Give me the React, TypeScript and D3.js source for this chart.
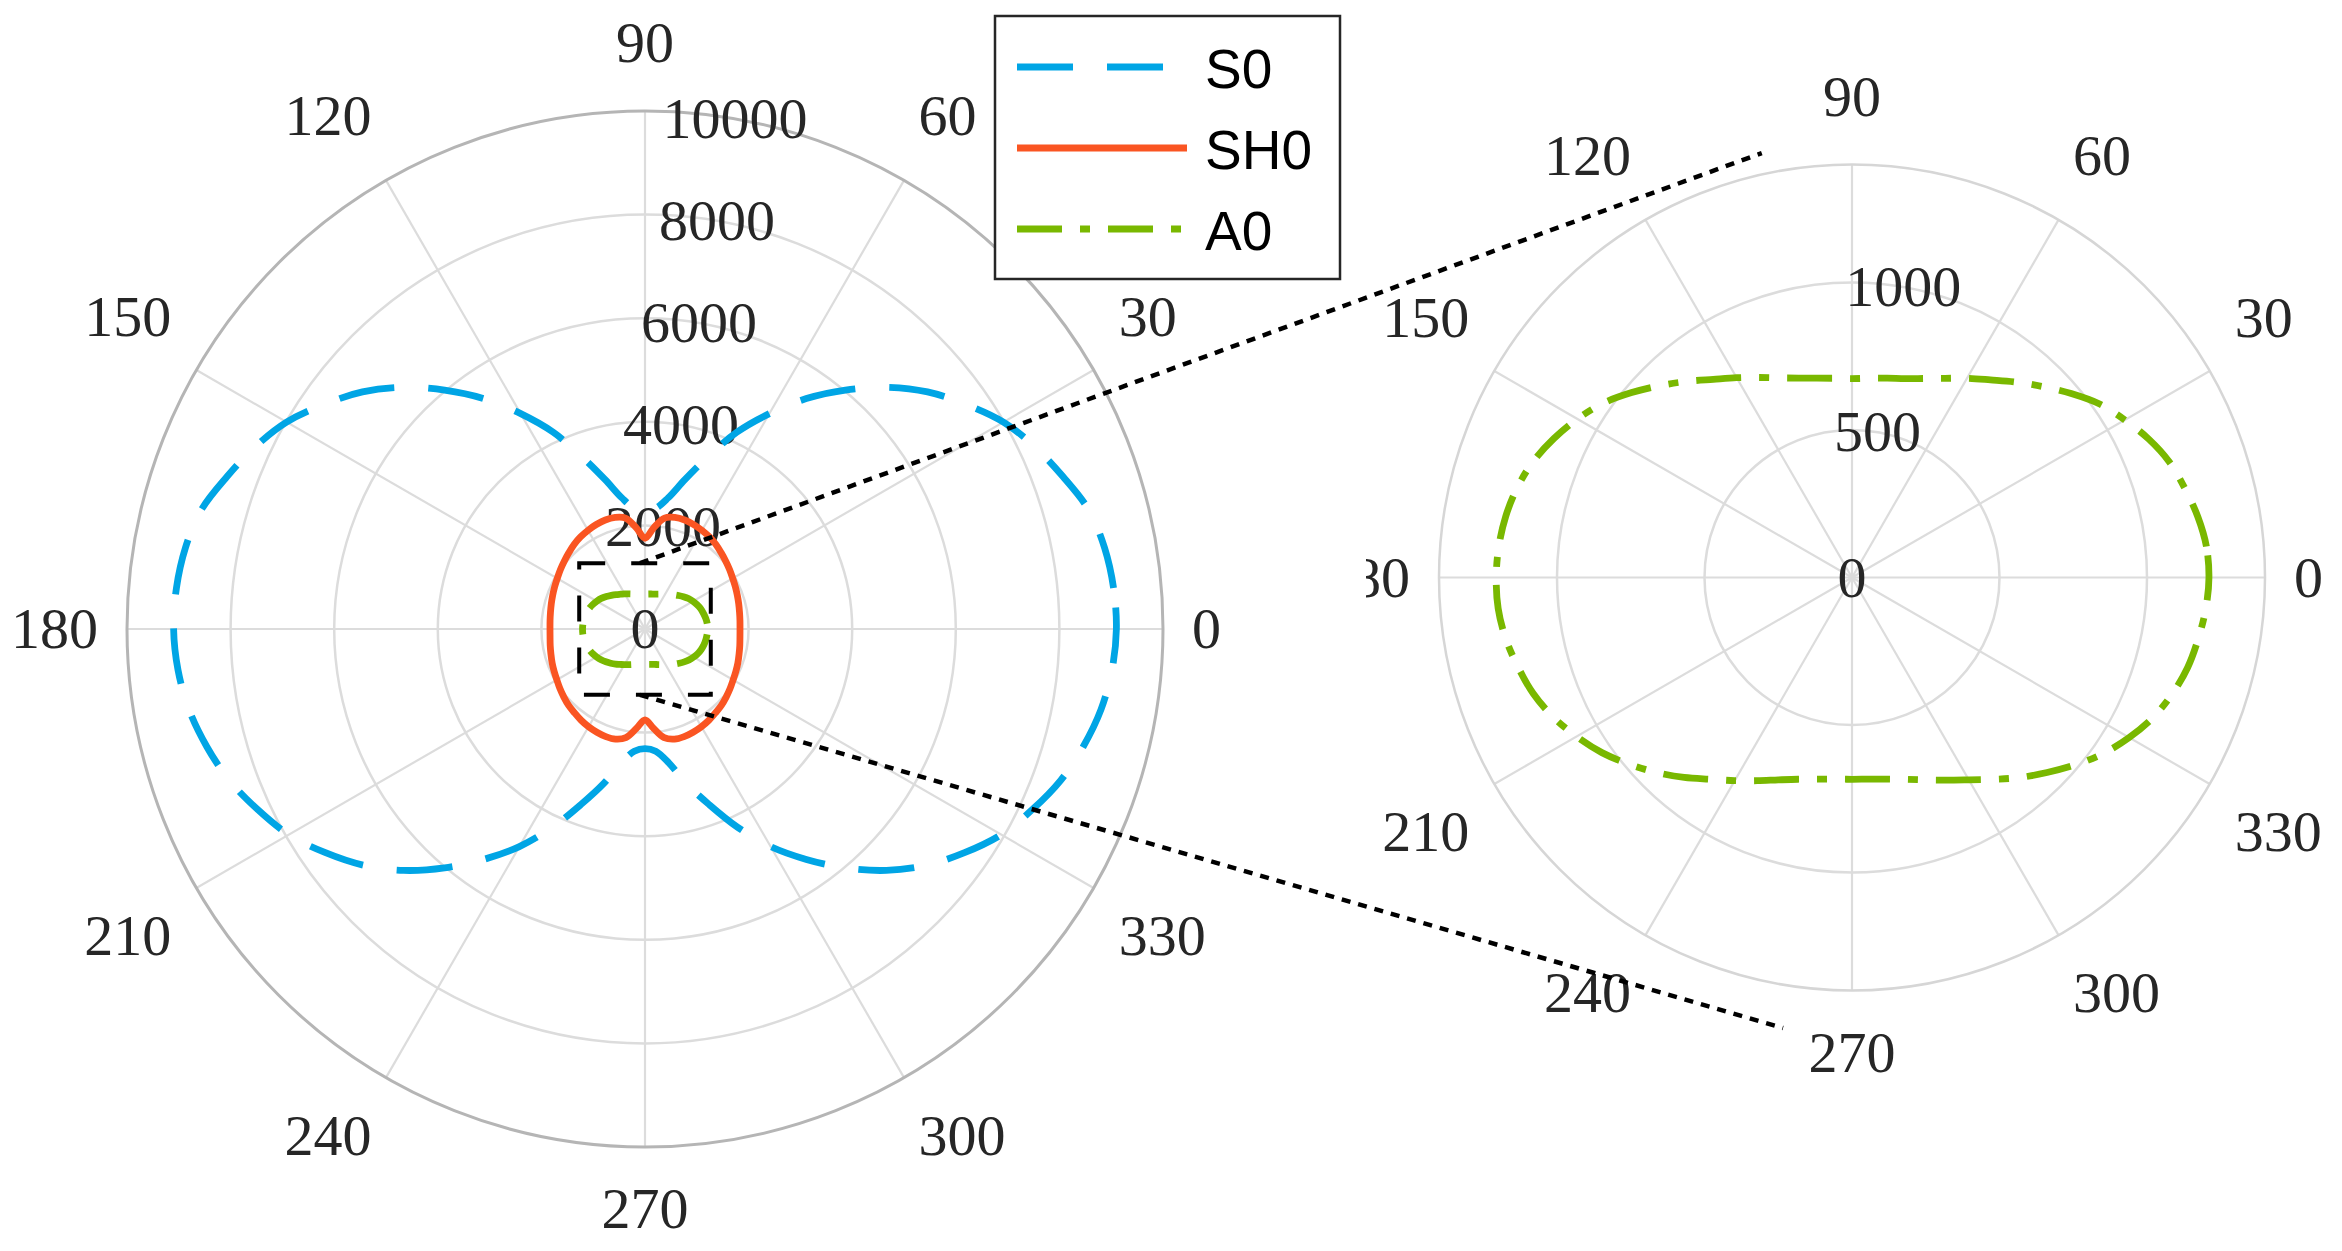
import React from 'react';
import * as d3 from 'd3';

// ---------- data ----------
const angles = [
  0, 5, 10, 15, 20, 25, 30, 35, 40, 45, 50, 55, 60, 65, 70, 75, 80, 85,
  90, 95, 100, 105, 110, 115, 120, 125, 130, 135, 140, 145, 150, 155, 160, 165, 170, 175,
  180, 185, 190, 195, 200, 205, 210, 215, 220, 225, 230, 235, 240, 245, 250, 255, 260, 265,
  270, 275, 280, 285, 290, 295, 300, 305, 310, 315, 320, 325, 330, 335, 340, 345, 350, 355,
];

const s0 = [
  9100, 9080, 9010, 8870, 8590, 8310, 7990, 7560, 7120, 6600, 6020, 5430, 4800, 4190, 3530, 2990, 2570, 2340,
  2295, 2340, 2570, 2990, 3530, 4190, 4800, 5430, 6020, 6600, 7120, 7560, 7990, 8310, 8590, 8870, 9010, 9080,
  9100, 9050, 8940, 8760, 8540, 8250, 7940, 7530, 7095, 6590, 6020, 5430, 4850, 4220, 3600, 3090, 2620, 2370,
  2310, 2370, 2620, 3090, 3600, 4220, 4850, 5430, 6020, 6590, 7095, 7530, 7940, 8250, 8540, 8760, 8940, 9050,
];

const sh0 = [
  1834, 1840, 1853, 1873, 1897, 1925, 1955, 1995, 2035, 2080, 2130, 2170, 2200, 2225, 2240, 2230, 2175, 1965,
  1752, 1965, 2175, 2230, 2240, 2225, 2200, 2170, 2130, 2080, 2035, 1995, 1955, 1925, 1897, 1873, 1853, 1840,
  1834, 1840, 1858, 1880, 1908, 1935, 1965, 2005, 2045, 2085, 2115, 2150, 2178, 2198, 2210, 2200, 2130, 1930,
  1757, 1930, 2130, 2200, 2210, 2198, 2178, 2150, 2115, 2085, 2045, 2005, 1965, 1935, 1908, 1880, 1858, 1840,
];

const a0 = [
  1210, 1206, 1190, 1168, 1145, 1110, 1068, 1025, 970, 915, 865, 818, 780, 745, 718, 698, 686, 678,
  674, 678, 686, 700, 720, 748, 782, 820, 868, 920, 975, 1030, 1075, 1115, 1150, 1175, 1192, 1202,
  1206, 1204, 1192, 1172, 1150, 1118, 1078, 1035, 985, 935, 885, 835, 795, 760, 730, 708, 694, 686,
  684, 686, 694, 708, 730, 758, 792, 835, 885, 935, 988, 1040, 1085, 1125, 1155, 1178, 1192, 1204,
];

const thetaTicks = [0, 30, 60, 90, 120, 150, 180, 210, 240, 270, 300, 330];
const leftRTicks = [0, 2000, 4000, 6000, 8000, 10000];
const rightRTicks = [0, 500, 1000];
const leftRMax = 10000;
const rightRMax = 1400;
const rAxisAngle = 80;
const zoomHalf = 1270;
// connector end points, in the right panel's polar units (r, theta)
const connectorTop = { r: 1471, theta: 102 };
const connectorBottom = { r: 1545, theta: 261.3 };

const seriesNames = ['S0', 'SH0', 'A0'];

// ---------- styles ----------
const W = 2342;
const H = 1251;
const TXT = '#262626';
const GRID = '#dcdcdc';
const SERIF = '"Liberation Serif", "Times New Roman", serif';
const SANS = '"Liberation Sans", Arial, sans-serif';
const FS = 58;
const styles: Record<string, { color: string; dash: string | undefined }> = {
  S0: { color: '#00a5e5', dash: '56 34' },
  SH0: { color: '#fa5522', dash: undefined },
  A0: { color: '#79b800', dash: '45 18 10 18' },
};
const LW = 6.8;

const L = { cx: 645, cy: 629, R: 518 };
const Rt = { cx: 1852, cy: 577.5, R: 413 };

function toRad(d: number) {
  return (d * Math.PI) / 180;
}

function radialLine(r: d3.ScaleLinear<number, number>) {
  return d3
    .lineRadial<number>()
    .angle((_d, i) => toRad(90 - angles[i]))
    .radius((d) => r(d))
    .curve(d3.curveCatmullRomClosed.alpha(0.5));
}

function ThetaLabel({ cx, cy, A, deg }: { cx: number; cy: number; A: number; deg: number }) {
  const t = toRad(deg);
  const c = Math.cos(t);
  const s = Math.sin(t);
  const x = cx + A * c;
  const anchor = c > 0.01 ? 'start' : c < -0.01 ? 'end' : 'middle';
  let y: number;
  if (s > 0.01) y = cy - A * s - 20;
  else if (s < -0.01) y = cy - A * s + 52;
  else y = cy + 0.33 * FS;
  return (
    <text x={x} y={y} textAnchor={anchor} fontFamily={SERIF} fontSize={FS} fill={TXT}>
      {deg}
    </text>
  );
}

function Panel({
  cx,
  cy,
  R,
  rmax,
  rTicks,
  outerColor,
  outerWidth,
  series,
}: {
  cx: number;
  cy: number;
  R: number;
  rmax: number;
  rTicks: number[];
  outerColor: string;
  outerWidth: number;
  series: { name: string; values: number[] }[];
}) {
  const r = d3.scaleLinear().domain([0, rmax]).range([0, R]);
  const line = radialLine(r);
  const A = R + 29;
  return (
    <g>
      {thetaTicks.map((d) => (
        <line
          key={'sp' + d}
          x1={cx}
          y1={cy}
          x2={cx + R * Math.cos(toRad(d))}
          y2={cy - R * Math.sin(toRad(d))}
          stroke={GRID}
          strokeWidth={2.2}
        />
      ))}
      {rTicks
        .filter((t) => t > 0 && t < rmax)
        .map((t) => (
          <circle key={'c' + t} cx={cx} cy={cy} r={r(t)} fill="none" stroke={GRID} strokeWidth={2.5} />
        ))}
      <circle cx={cx} cy={cy} r={R} fill="none" stroke={outerColor} strokeWidth={outerWidth} />
      {thetaTicks.map((d) => (
        <ThetaLabel key={'tl' + d} cx={cx} cy={cy} A={A} deg={d} />
      ))}
      {rTicks.map((t) => (
        <text
          key={'rl' + t}
          x={cx + r(t) * Math.cos(toRad(rAxisAngle))}
          y={cy - r(t) * Math.sin(toRad(rAxisAngle)) + 0.33 * FS}
          textAnchor="middle"
          fontFamily={SERIF}
          fontSize={FS}
          fill={TXT}
        >
          {t}
        </text>
      ))}
      {series.map((s) => (
        <path
          key={s.name}
          d={line(s.values) || ''}
          transform={`translate(${cx},${cy})`}
          fill="none"
          stroke={styles[s.name].color}
          strokeWidth={LW}
          strokeDasharray={styles[s.name].dash}
          strokeLinejoin="round"
        />
      ))}
    </g>
  );
}

export default function App() {
  const rL = d3.scaleLinear().domain([0, leftRMax]).range([0, L.R]);
  const rR = d3.scaleLinear().domain([0, rightRMax]).range([0, Rt.R]);
  const half = rL(zoomHalf);
  const box = { x0: L.cx - half, x1: L.cx + half, y0: L.cy - half, y1: L.cy + half };
  const endTop = {
    x: Rt.cx + rR(connectorTop.r) * Math.cos(toRad(connectorTop.theta)),
    y: Rt.cy - rR(connectorTop.r) * Math.sin(toRad(connectorTop.theta)),
  };
  const endBot = {
    x: Rt.cx + rR(connectorBottom.r) * Math.cos(toRad(connectorBottom.theta)),
    y: Rt.cy - rR(connectorBottom.r) * Math.sin(toRad(connectorBottom.theta)),
  };
  const legend = { x: 995, y: 16, w: 345, h: 263, rowY: [67, 148, 229], lx0: 1017, lx1: 1187, tx: 1205 };

  return (
    <svg
      width={W}
      height={H}
      viewBox={`0 0 ${W} ${H}`}
      style={{ position: 'absolute', left: 0, top: 0, display: 'block', background: '#fff' }}
    >
      <defs>
        <clipPath id="rightClip">
          <rect x={1366} y={0} width={W - 1366} height={H} />
        </clipPath>
      </defs>
      <rect x={0} y={0} width={W} height={H} fill="#fff" />
      <Panel
        cx={L.cx}
        cy={L.cy}
        R={L.R}
        rmax={leftRMax}
        rTicks={leftRTicks}
        outerColor="#b5b5b5"
        outerWidth={3}
        series={[
          { name: 'S0', values: s0 },
          { name: 'SH0', values: sh0 },
          { name: 'A0', values: a0 },
        ]}
      />
      <g clipPath="url(#rightClip)">
        <Panel
          cx={Rt.cx}
          cy={Rt.cy}
          R={Rt.R}
          rmax={rightRMax}
          rTicks={rightRTicks}
          outerColor="#d6d6d6"
          outerWidth={2.5}
          series={[{ name: 'A0', values: a0 }]}
        />
      </g>
      <rect
        x={box.x0}
        y={box.y0}
        width={box.x1 - box.x0}
        height={box.y1 - box.y0}
        fill="none"
        stroke="#000"
        strokeWidth={4}
        strokeDasharray="26 26"
      />
      <line
        x1={(box.x0 + box.x1) / 2 - 5}
        y1={box.y0}
        x2={endTop.x}
        y2={endTop.y}
        stroke="#000"
        strokeWidth={4.5}
        strokeDasharray="9 8"
      />
      <line
        x1={(box.x0 + box.x1) / 2 - 5}
        y1={box.y1}
        x2={endBot.x}
        y2={endBot.y}
        stroke="#000"
        strokeWidth={4.5}
        strokeDasharray="9 8"
      />
      <rect x={legend.x} y={legend.y} width={legend.w} height={legend.h} fill="#fff" stroke={TXT} strokeWidth={2.5} />
      {seriesNames.map((n, i) => (
        <g key={n}>
          <line
            x1={legend.lx0}
            x2={legend.lx1}
            y1={legend.rowY[i]}
            y2={legend.rowY[i]}
            stroke={styles[n].color}
            strokeWidth={7}
            strokeDasharray={styles[n].dash}
          />
          <text x={legend.tx} y={legend.rowY[i] + 21} fontFamily={SANS} fontSize={55} fill="#000">
            {n}
          </text>
        </g>
      ))}
    </svg>
  );
}
